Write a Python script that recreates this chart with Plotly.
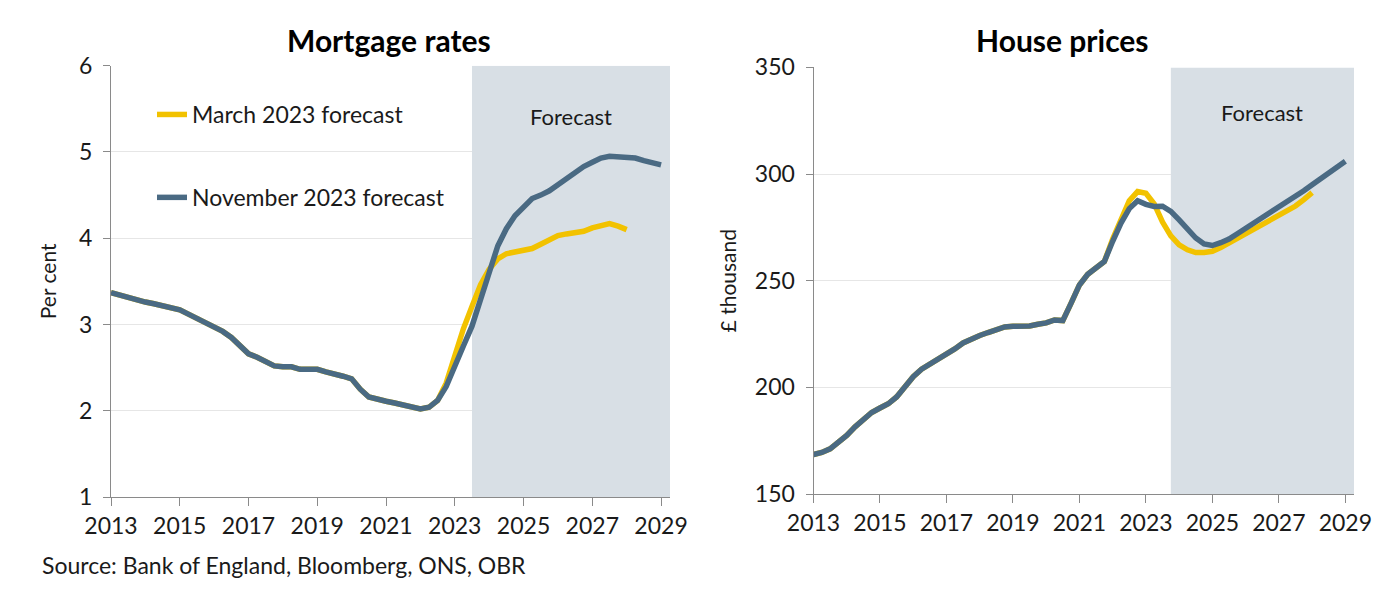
import plotly.graph_objects as go

# ---------------- data ----------------
mortgage_hist = [3.37, 3.34, 3.31, 3.28, 3.26, 3.24, 3.22, 3.20,
                 3.17, 3.12, 3.07, 3.02, 2.97, 2.92, 2.85, 2.75,
                 2.66, 2.62, 2.57, 2.52, 2.51, 2.51, 2.48, 2.48,
                 2.48, 2.45, 2.43, 2.40, 2.37, 2.25, 2.16, 2.13,
                 2.11, 2.09, 2.07, 2.04, 2.02, 2.04, 2.12]
mortgage_nov_tail = [2.28, 2.53, 2.75, 2.98, 3.27, 3.60, 3.91, 4.11, 4.26,
                     4.36, 4.46, 4.50, 4.55, 4.62, 4.69, 4.76, 4.83,
                     4.88, 4.93, 4.95, 4.94, 4.94, 4.93, 4.90, 4.87, 4.85]
mortgage_mar_tail = [2.32, 2.66, 2.95, 3.21, 3.46, 3.64, 3.76, 3.82, 3.84,
                     3.85, 3.88, 3.93, 3.98, 4.03, 4.05, 4.06, 4.08,
                     4.12, 4.15, 4.17, 4.14, 4.10]

house_hist = [168.5, 169.5, 171.2, 174.0, 177.5, 181.5, 185.3, 188.2,
              190.3, 192.3, 195.5, 200.0, 205.0, 208.5, 210.8, 212.8,
              215.0, 218.0, 220.8, 222.8, 224.3, 225.7, 227.2, 228.3,
              228.6, 228.6, 228.8, 229.6, 230.2, 231.6, 231.3, 239.5,
              248.0, 253.0, 255.8, 259.0]
house_nov_tail = [268.5, 277.0, 283.8, 287.5, 285.8, 284.8, 284.9, 282.5,
                  278.5, 274.0, 270.0, 267.2, 266.5, 267.8, 269.5, 272.0,
                  274.5, 277.0, 279.4, 281.8, 284.2, 286.8, 289.5, 292.2,
                  295.0, 297.8, 300.5, 303.3, 306.0]
house_mar_tail = [269.5, 279.0, 287.5, 291.8, 291.0, 286.0, 277.5, 271.0,
                  266.8, 264.5, 263.2, 263.2, 263.8, 265.5, 267.6, 269.8,
                  272.0, 274.2, 276.3, 278.5, 280.6, 282.8, 285.0, 288.0,
                  291.3]

series_names = ["March 2023 forecast", "November 2023 forecast"]
year_ticks = [2013, 2015, 2017, 2019, 2021, 2023, 2025, 2027, 2029]
mort_yticks = [1, 2, 3, 4, 5, 6]
house_yticks = [150, 200, 250, 300, 350]
forecast_start_mort = 2023.5
forecast_start_house = 2023.75
axis_end = 2029.26

panel_titles = ["Mortgage rates", "House prices"]
ytitles = ["Per cent", "£ thousand"]
source_text = "Source: Bank of England, Bloomberg, ONS, OBR"


def quarters(start, n):
    return [start + i * 0.25 for i in range(n)]


mort_nov = mortgage_hist + mortgage_nov_tail
mort_mar = mortgage_hist + mortgage_mar_tail
house_nov = house_hist + house_nov_tail
house_mar = house_hist + house_mar_tail

x_mort_nov = quarters(2013.0, len(mort_nov))
x_mort_mar = quarters(2013.0, len(mort_mar))
x_house_nov = quarters(2013.0, len(house_nov))
x_house_mar = quarters(2013.0, len(house_mar))

# ---------------- styling ----------------
FONT = "Lato"
YELLOW = "#F2C200"
NAVY = "#4A6A83"
SHADE = "#D8DFE5"
TXT = "#1a1a1a"
AX = "#8a8a8a"
GRID = "#e6e6e6"
LW = 5.5

fig = go.Figure()

fig.add_trace(go.Scatter(x=x_mort_mar, y=mort_mar, mode="lines", name=series_names[0],
                         line=dict(color=YELLOW, width=LW), legendgroup="a",
                         xaxis="x", yaxis="y"))
fig.add_trace(go.Scatter(x=x_mort_nov, y=mort_nov, mode="lines", name=series_names[1],
                         line=dict(color=NAVY, width=LW), legendgroup="b",
                         xaxis="x", yaxis="y"))
fig.add_trace(go.Scatter(x=x_house_mar, y=house_mar, mode="lines", name=series_names[0],
                         line=dict(color=YELLOW, width=LW), showlegend=False,
                         xaxis="x2", yaxis="y2"))
fig.add_trace(go.Scatter(x=x_house_nov, y=house_nov, mode="lines", name=series_names[1],
                         line=dict(color=NAVY, width=LW), showlegend=False,
                         xaxis="x2", yaxis="y2"))

# forecast shading (covers the gridlines, beneath the lines)
fig.add_shape(type="rect", xref="x", yref="y", x0=forecast_start_mort, x1=axis_end,
              y0=mort_yticks[0], y1=mort_yticks[-1], fillcolor=SHADE, line_width=0, layer="between")
fig.add_shape(type="rect", xref="x2", yref="y2", x0=forecast_start_house, x1=axis_end,
              y0=house_yticks[0], y1=house_yticks[-1], fillcolor=SHADE, line_width=0, layer="between")

xcommon = dict(range=[2013, axis_end], tickvals=year_ticks, ticktext=[str(t) for t in year_ticks],
               showgrid=False, zeroline=False, showline=True, linecolor=AX, linewidth=1,
               ticks="outside", ticklen=8, tickcolor=AX, tickwidth=1, automargin=False,
               tickfont=dict(family=FONT, size=23, color=TXT))
ycommon = dict(showgrid=True, gridcolor=GRID, gridwidth=1, zeroline=False, showline=True,
               linecolor=AX, linewidth=1, ticks="outside", ticklen=7, tickcolor=AX,
               automargin=False, tickfont=dict(family=FONT, size=23, color=TXT))

fig.update_layout(
    width=1400, height=602,
    margin=dict(l=0, r=0, t=0, b=0, autoexpand=False),
    paper_bgcolor="white", plot_bgcolor="white",
    font=dict(family=FONT, color=TXT),
    xaxis=dict(domain=[111 / 1400, 670 / 1400], anchor="y", **xcommon),
    yaxis=dict(domain=[105 / 602, 536.3 / 602], anchor="x", range=[1, 6], tickvals=mort_yticks,
               title=dict(text=ytitles[0], font=dict(family=FONT, size=21, color=TXT), standoff=16),
               ticklabelstandoff=6, **ycommon),
    xaxis2=dict(domain=[813.5 / 1400, 1354 / 1400], anchor="y2", **xcommon),
    yaxis2=dict(domain=[108 / 602, 534.6 / 602], anchor="x2", range=[150, 350], tickvals=house_yticks,
                title=dict(text=ytitles[1], font=dict(family=FONT, size=21, color=TXT), standoff=12),
                ticklabelstandoff=6, **ycommon),
    showlegend=True,
    legend=dict(x=152 / 1400, y=(602 - 93) / 602, xanchor="left", yanchor="top",
                bgcolor="rgba(0,0,0,0)", font=dict(family=FONT, size=23, color=TXT),
                traceorder="grouped", tracegroupgap=50, itemwidth=30),
)

annos = [
    dict(text=panel_titles[0], x=389 / 1400, y=(602 - 40) / 602, xref="paper", yref="paper",
         xanchor="center", yanchor="middle", showarrow=False,
         font=dict(family=FONT, size=30, color="#000", weight="bold")),
    dict(text=panel_titles[1], x=1062 / 1400, y=(602 - 40) / 602, xref="paper", yref="paper",
         xanchor="center", yanchor="middle", showarrow=False,
         font=dict(family=FONT, size=30, color="#000", weight="bold")),
    dict(text="Forecast", x=(forecast_start_mort + axis_end) / 2, xref="x", y=(602 - 116) / 602,
         yref="paper", xanchor="center", yanchor="middle", showarrow=False,
         font=dict(family=FONT, size=22, color=TXT)),
    dict(text="Forecast", x=(forecast_start_house + axis_end) / 2, xref="x2", y=(602 - 113) / 602,
         yref="paper", xanchor="center", yanchor="middle", showarrow=False,
         font=dict(family=FONT, size=22, color=TXT)),
    dict(text=source_text, x=40 / 1400, y=(602 - 565) / 602, xref="paper", yref="paper",
         xanchor="left", yanchor="middle", showarrow=False,
         font=dict(family=FONT, size=23, color=TXT)),
]
fig.update_layout(annotations=annos)

fig.write_html("out.html", config={"displayModeBar": False},
               post_script="document.body.style.margin='0';")
